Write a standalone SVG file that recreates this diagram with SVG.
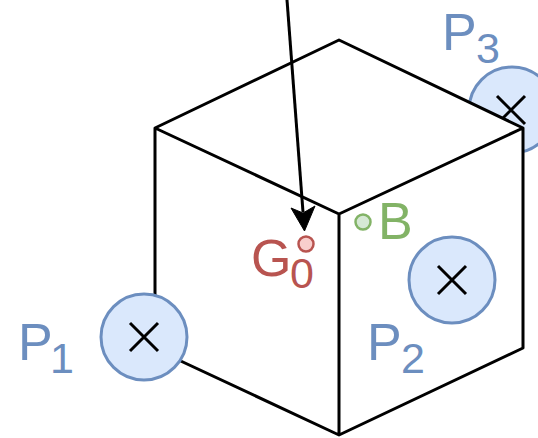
<svg xmlns="http://www.w3.org/2000/svg" width="538" height="438" viewBox="0 0 538 438">
<style>
.c{fill:#dae8fc;stroke:#6c8ebf;stroke-width:3}
.x{fill:none;stroke:#000;stroke-width:3}
.e{fill:none;stroke:#000;stroke-width:3;stroke-linejoin:round}
.t{font-family:"Liberation Sans",Arial,sans-serif;font-size:52px}
.s{font-family:"Liberation Sans",Arial,sans-serif;font-size:43px}
.b{fill:#6c8ebf}.g{fill:#82b366}.r{fill:#b85450}
</style>
<rect width="538" height="438" fill="#fff"/>
<g id="P3">
<circle class="c" cx="512" cy="110" r="43"/>
<path class="x" d="M497 96L525 124M525 96L497 124"/>
</g>
<g id="cube">
<path d="M339 40L523 128V348L339 435L155 349V128Z" fill="#fff"/>
<path class="e" d="M339 40L523 128V348L339 435L155 349V128ZM155 128L339 214L523 128M339 214V435"/>
</g>
<g id="P3-label"><text class="t b" x="442" y="50">P</text><text class="s b" x="476" y="63">3</text></g>
<g id="P1">
<circle class="c" cx="144" cy="337" r="43"/>
<path class="x" d="M130 323L158 351M158 323L130 351"/>
<text class="t b" x="18" y="360">P</text><text class="s b" x="50" y="373">1</text>
</g>
<g id="P2">
<circle class="c" cx="452" cy="280" r="43"/>
<path class="x" d="M438 266L466 294M466 266L438 294"/>
<text class="t b" x="367" y="360">P</text><text class="s b" x="401" y="373">2</text>
</g>
<g id="G0">
<circle cx="306" cy="244" r="7.500" fill="#f8cecc" stroke="#b85450" stroke-width="2.500"/>
<text class="t r" x="251" y="276">G</text><text class="s r" x="290" y="288">0</text>
</g>
<g id="B">
<circle cx="363" cy="222" r="7.500" fill="#d5e8d4" stroke="#82b366" stroke-width="2.500"/>
<text class="t g" x="378" y="239">B</text>
</g>
<g id="connectors">
<path d="M287 0L303 212" fill="none" stroke="#000" stroke-width="3"/>
<path d="M304.500 231L291 208L303 213L315 206Z" fill="#000" stroke="#000" stroke-width="1"/>
</g>
</svg>
